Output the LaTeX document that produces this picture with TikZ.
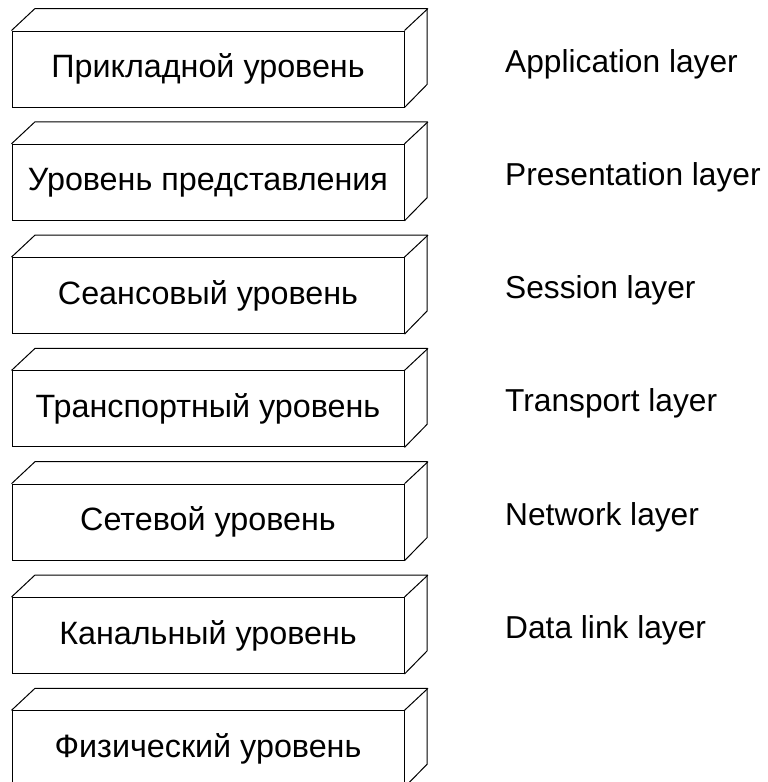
\documentclass[tikz,border=0pt]{standalone}
\usepackage{fontspec}
\setmainfont{Liberation Sans}
\tikzset{
  layerface/.style={draw, line width=1pt, minimum width=392pt, minimum height=76pt,
    inner sep=0pt, font=\fontsize{32.3}{38}\selectfont},
  layerlabel/.style={anchor=base west, inner sep=0pt, font=\fontsize{31.7}{38}\selectfont},
  edge3d/.style={line width=1pt, line join=miter}
}
\begin{document}
\begin{tikzpicture}[x=1pt, y=-1pt]
  \useasboundingbox (0,0) rectangle (768,782);
  % OSI layer blocks, drawn as extruded boxes
  \foreach \t [count=\i] in {Прикладной уровень, Уровень представления,
      Сеансовый уровень, Транспортный уровень, Сетевой уровень,
      Канальный уровень, Физический уровень} {
    \pgfmathsetmacro{\yc}{69+113.3*(\i-1)}
    \node[layerface] (L\i) at (208,\yc) {\t};
    \draw[edge3d] (L\i.north west) -- ++(23.5,-22) -- ++(392,0) -- ++(0,76)
      -- (L\i.south east);
    \draw[edge3d] (L\i.north east) -- ++(23.5,-22);
  }
  % English names of the layers
  \foreach \t [count=\i] in {Application layer, Presentation layer, Session layer,
      Transport layer, Network layer, Data link layer} {
    \pgfmathsetmacro{\yb}{72+113.3*(\i-1)}
    \node[layerlabel] (E\i) at (505,\yb) {\t};
  }
\end{tikzpicture}
\end{document}
